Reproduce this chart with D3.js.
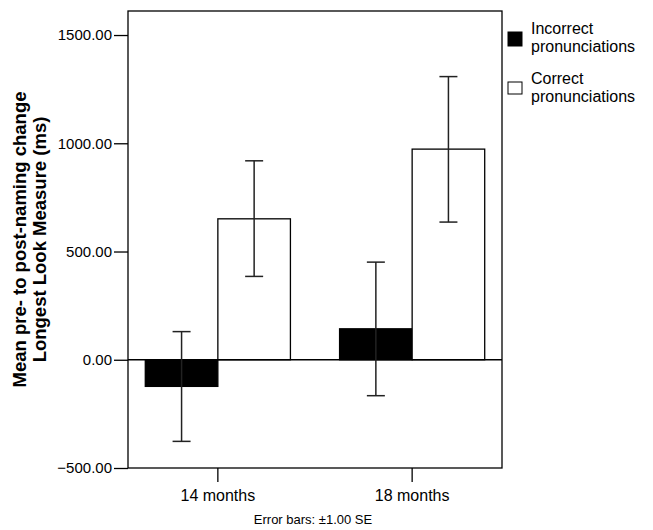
<!DOCTYPE html>
<meta charset="utf-8">
<title>Longest Look Measure</title>
<style>
  body { margin: 0; background: #fff; }
  text { font-family: Arial, "Liberation Sans", sans-serif; }
</style>
<body>
<div id="chart"></div>
<script src="https://d3js.org/d3.v7.min.js"></script>
<script>
// data
var groups = ["14 months", "18 months"];
var series = ["Incorrect pronunciations", "Correct pronunciations"];
var means = [[-123, 651], [143, 973]];
var errLow = [[-377, 385], [-166, 636]];
var errHigh = [[130, 919], [451, 1308]];
var yTicks = [-500, 0, 500, 1000, 1500];
var fills = ["#000", "#fff"];

var W = 653, H = 530;
var plotL = 128, plotR = 502, plotT = 11, plotB = 468;

var svg = d3.select("#chart").append("svg")
  .attr("width", W).attr("height", H);

var x = d3.scaleBand().domain(groups).range([plotL, plotR])
  .paddingInner(0.253).paddingOuter(0.089);
var xs = d3.scaleBand().domain(series).range([0, x.bandwidth()]);
var y = d3.scaleLinear().domain([-500, 1611]).range([plotB, plotT]);

// frame
svg.append("rect")
  .attr("x", plotL).attr("y", plotT)
  .attr("width", plotR - plotL).attr("height", plotB - plotT)
  .attr("fill", "none").attr("stroke", "#000").attr("stroke-width", 1.3);

// y axis
var yAxis = svg.append("g").attr("transform", "translate(" + plotL + ",0)")
  .call(d3.axisLeft(y).tickValues(yTicks).tickSize(14).tickPadding(2)
    .tickFormat(d3.format(".2f")));
yAxis.select(".domain").remove();
yAxis.selectAll("line").attr("stroke-width", 1.3);
yAxis.selectAll("text").attr("font-size", 15).attr("fill", "#000")
  .attr("font-family", "Arial, 'Liberation Sans', sans-serif");

// x axis
var xAxis = svg.append("g").attr("transform", "translate(0," + plotB + ")")
  .call(d3.axisBottom(x).tickSize(14).tickPadding(8));
xAxis.select(".domain").remove();
xAxis.selectAll("line").attr("stroke-width", 1.3);
xAxis.selectAll("text").attr("font-size", 16).attr("fill", "#000")
  .attr("font-family", "Arial, 'Liberation Sans', sans-serif");

// bars
var rows = [];
groups.forEach(function(g, i) {
  series.forEach(function(s, j) {
    rows.push({g: g, s: s, v: means[i][j], lo: errLow[i][j], hi: errHigh[i][j], c: fills[j]});
  });
});

svg.append("g").selectAll("rect").data(rows).enter().append("rect")
  .attr("x", function(d) { return x(d.g) + xs(d.s); })
  .attr("y", function(d) { return y(Math.max(0, d.v)); })
  .attr("width", xs.bandwidth())
  .attr("height", function(d) { return Math.abs(y(d.v) - y(0)); })
  .attr("fill", function(d) { return d.c; })
  .attr("stroke", "#000").attr("stroke-width", 1.3);

// zero line
svg.append("line")
  .attr("x1", plotL).attr("x2", plotR)
  .attr("y1", y(0)).attr("y2", y(0))
  .attr("stroke", "#000").attr("stroke-width", 1.3);

// error bars
var eb = svg.append("g").selectAll("g").data(rows).enter().append("g")
  .attr("transform", function(d) { return "translate(" + (x(d.g) + xs(d.s) + xs.bandwidth() / 2) + ",0)"; })
  .attr("stroke", "#222").attr("stroke-width", 1.5);
eb.append("line").attr("y1", function(d) { return y(d.lo); }).attr("y2", function(d) { return y(d.hi); });
eb.append("line").attr("x1", -9).attr("x2", 9)
  .attr("y1", function(d) { return y(d.hi); }).attr("y2", function(d) { return y(d.hi); });
eb.append("line").attr("x1", -9).attr("x2", 9)
  .attr("y1", function(d) { return y(d.lo); }).attr("y2", function(d) { return y(d.lo); });

// y title
var yt = svg.append("text")
  .attr("transform", "translate(26," + (plotT + plotB) / 2 + ") rotate(-90)")
  .attr("text-anchor", "middle").attr("font-weight", "bold").attr("font-size", 18.5);
yt.append("tspan").attr("x", 0).attr("dy", 0).text("Mean pre- to post-naming change");
yt.append("tspan").attr("x", 0).attr("dy", 20).text("Longest Look Measure (ms)");

// footnote
svg.append("text").attr("x", (plotL + plotR) / 2 - 2)
  .attr("y", 524).attr("text-anchor", "middle").attr("font-size", 13)
  .text("Error bars: \u00b11.00 SE");

// legend
var lg = svg.append("g").selectAll("g").data(series).enter().append("g")
  .attr("transform", function(d, i) { return "translate(508," + (32 + i * 50) + ")"; });
lg.append("rect").attr("width", 14).attr("height", function(d, i) { return i ? 12 : 14; })
  .attr("fill", function(d, i) { return fills[i]; })
  .attr("stroke", "#000").attr("stroke-width", 1);
lg.append("text").attr("x", 23).attr("y", 2).attr("font-size", 16)
  .text(function(d) { return d.split(" ")[0]; });
lg.append("text").attr("x", 23).attr("y", 20).attr("font-size", 16)
  .text(function(d) { return d.split(" ")[1]; });
</script>
</body>
